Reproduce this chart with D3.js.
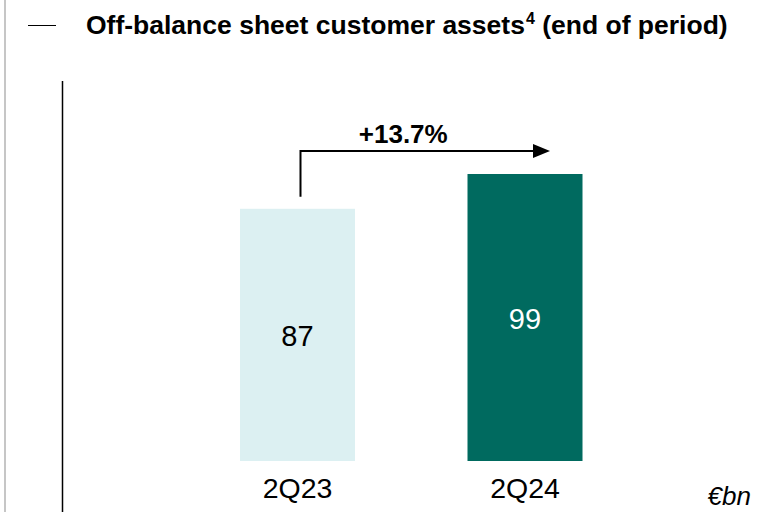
<!DOCTYPE html>
<html><head><meta charset="utf-8">
<script src="https://cdn.jsdelivr.net/npm/d3@7"></script>
<style>body{margin:0;background:#fff}svg{display:block;font-family:"Liberation Sans",Arial,sans-serif}</style>
</head><body>
<script>
const categories = ["2Q23", "2Q24"];
const values = [87, 99];
const growthLabel = "+13.7%";
const unitLabel = "€bn";
const titleMain = "Off-balance sheet customer assets";
const titleSup = "4";
const titleTail = " (end of period)";
const barColors = ["#dcf0f2", "#006a5f"];
const valueTextColors = ["#000000", "#ffffff"];

const W = 782, H = 512;
const svg = d3.select("body").append("svg").attr("width", W).attr("height", H);

// frame decorations
svg.append("line").attr("x1", 5).attr("x2", 5).attr("y1", 0).attr("y2", H)
  .attr("stroke", "#c6c6c6").attr("stroke-width", 2);
svg.append("line").attr("x1", 28).attr("x2", 56).attr("y1", 25.5).attr("y2", 25.5)
  .attr("stroke", "#000").attr("stroke-width", 1);
svg.append("line").attr("x1", 62.5).attr("x2", 62.5).attr("y1", 81).attr("y2", H)
  .attr("stroke", "#000").attr("stroke-width", 1.5);

const title = svg.append("text").attr("x", 86).attr("y", 34)
  .attr("font-size", 26.5).attr("font-weight", "bold").attr("fill", "#000");
title.append("tspan").text(titleMain);
title.append("tspan").text(titleSup).attr("font-size", 16).attr("dy", -10).attr("dx", 1);
title.append("tspan").text(titleTail).attr("font-size", 26.5).attr("dy", 10);

const p = 0.4945;
const x = d3.scaleBand().domain(categories).range([127.5, 695]).paddingInner(p).paddingOuter(p);
const y = d3.scaleLinear().domain([0, 99]).range([461, 174]);

const data = categories.map((c, i) => ({c, v: values[i], i}));

svg.selectAll("rect.bar").data(data).join("rect").attr("class", "bar")
  .attr("x", d => x(d.c)).attr("width", x.bandwidth())
  .attr("y", d => y(d.v)).attr("height", d => y(0) - y(d.v))
  .attr("fill", d => barColors[d.i]);

svg.selectAll("text.val").data(data).join("text").attr("class", "val")
  .attr("x", d => x(d.c) + x.bandwidth() / 2)
  .attr("y", d => (y(d.v) + y(0)) / 2 + 11)
  .attr("text-anchor", "middle").attr("font-size", 29)
  .attr("fill", d => valueTextColors[d.i]).text(d => d.v);

svg.selectAll("text.cat").data(data).join("text").attr("class", "cat")
  .attr("x", d => x(d.c) + x.bandwidth() / 2)
  .attr("y", 498)
  .attr("text-anchor", "middle").attr("font-size", 28.5)
  .attr("fill", "#000").text(d => d.c);

svg.append("text").attr("x", 751).attr("y", 505).attr("text-anchor", "end")
  .attr("font-size", 26).attr("font-style", "italic").text(unitLabel);

// growth arrow
const x0 = x(categories[0]) + x.bandwidth() / 2 + 3;
const x1 = x(categories[1]) + x.bandwidth() / 2 + 25;
const yTop = y(values[1]) - 23;
const yStart = y(values[0]) - 12;
svg.append("path")
  .attr("d", `M${x0},${yStart} L${x0},${yTop} L${x1 - 16},${yTop}`)
  .attr("fill", "none").attr("stroke", "#000").attr("stroke-width", 2);
svg.append("path")
  .attr("d", `M${x1 - 17},${yTop - 7} L${x1},${yTop} L${x1 - 17},${yTop + 7} Z`)
  .attr("fill", "#000");
svg.append("text").attr("x", (x0 + x1) / 2 - 22).attr("y", yTop - 8)
  .attr("text-anchor", "middle").attr("font-size", 26).attr("font-weight", "bold")
  .text(growthLabel);
</script>
</body></html>
